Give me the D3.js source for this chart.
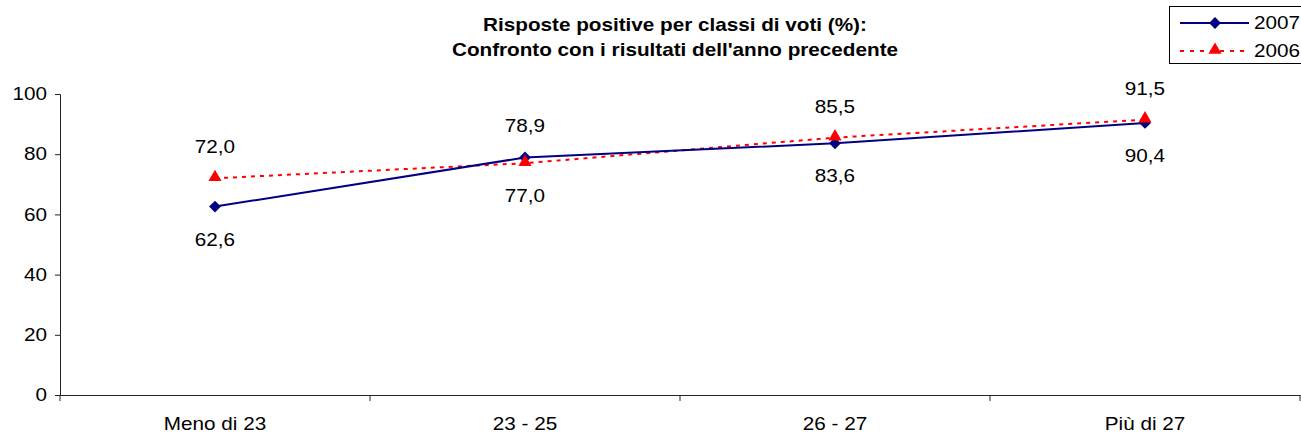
<!DOCTYPE html>
<html><head><meta charset="utf-8">
<script src="https://cdn.jsdelivr.net/npm/d3@7"></script>
<style>body{margin:0;background:#fff}svg{display:block;font-family:"Liberation Sans",Arial,sans-serif}</style>
</head><body><svg id="c" width="1301" height="434"></svg>
<script>
const categories = ["Meno di 23", "23 - 25", "26 - 27", "Più di 27"];
const values2007 = [62.6, 78.9, 83.6, 90.4];
const values2006 = [72.0, 77.0, 85.5, 91.5];
const labelPos2007 = ["below", "above", "below", "below"];
const labelPos2006 = ["above", "below", "above", "above"];
const yTicks = [0, 20, 40, 60, 80, 100];
const titleLines = ["Risposte positive per classi di voti (%):", "Confronto con i risultati dell'anno precedente"];
const seriesNames = ["2007", "2006"];

const SX = 1.15; // horizontal text stretch seen in the reference
function stretch(sel) {
  sel.attr("transform", function () {
    const x = +this.getAttribute("x") || 0;
    return `translate(${x},0) scale(${SX},1) translate(${-x},0)`;
  });
}

const svg = d3.select("#c");
const x = d3.scaleBand().domain(categories).range([60, 1300]);
const y = d3.scaleLinear().domain([0, 100]).range([395, 94]);
const fmt = v => d3.format(".1f")(v).replace(".", ",");

// title
svg.append("g").selectAll("text").data(titleLines).join("text")
  .attr("x", 675).attr("y", (d, i) => 31 + i * 25)
  .attr("text-anchor", "middle").attr("font-weight", "bold").attr("font-size", 18)
  .text(d => d).call(stretch);

// y axis
const ya = svg.append("g").attr("transform", "translate(60,0)")
  .call(d3.axisLeft(y).tickValues(yTicks).tickSize(5).tickPadding(8));
ya.select(".domain").attr("stroke", "#222");
ya.selectAll(".tick line").attr("stroke", "#222");
ya.selectAll("text").attr("font-size", 18).attr("font-family", "Liberation Sans, Arial").attr("fill", "#000").call(stretch);

// x axis
const xa = svg.append("g").attr("transform", "translate(0,395)")
  .call(d3.axisBottom(x).tickSize(0).tickPadding(22).tickSizeOuter(0));
xa.select(".domain").attr("stroke", "#222");
xa.selectAll("text").attr("font-size", 18).attr("font-family", "Liberation Sans, Arial").attr("fill", "#000").call(stretch);
const bounds = categories.map(c => x(c)).concat([x(categories[categories.length - 1]) + x.bandwidth()]);
svg.append("g").selectAll("line").data(bounds).join("line")
  .attr("x1", d => d).attr("x2", d => d).attr("y1", 395).attr("y2", 401).attr("stroke", "#222");

const cx = c => x(c) + x.bandwidth() / 2;
const line = d3.line().x((d, i) => cx(categories[i])).y(d => y(d));

svg.append("path").datum(values2006).attr("d", line).attr("fill", "none")
  .attr("stroke", "#ff0000").attr("stroke-width", 2).attr("stroke-dasharray", "4,5");
svg.append("path").datum(values2007).attr("d", line).attr("fill", "none")
  .attr("stroke", "#000080").attr("stroke-width", 2);

const diamond = d3.symbol().type(d3.symbolSquare).size(70);
const tri = d3.symbol().type(d3.symbolTriangle).size(75);

svg.append("g").selectAll("path").data(values2007).join("path")
  .attr("d", diamond)
  .attr("transform", (d, i) => `translate(${cx(categories[i])},${y(d)}) rotate(45)`)
  .attr("fill", "#000080");
svg.append("g").selectAll("path").data(values2006).join("path")
  .attr("d", tri)
  .attr("transform", (d, i) => `translate(${cx(categories[i])},${y(d) - 1})`)
  .attr("fill", "#ff0000");

function labels(vals, pos) {
  svg.append("g").selectAll("text").data(vals).join("text")
    .attr("x", (d, i) => cx(categories[i]))
    .attr("y", (d, i) => y(d) + (pos[i] === "above" ? -25 : 39))
    .attr("text-anchor", "middle").attr("font-size", 18)
    .text(d => fmt(d)).call(stretch);
}
labels(values2007, labelPos2007);
labels(values2006, labelPos2006);

// legend
const lg = svg.append("g");
lg.append("rect").attr("x", 1169.5).attr("y", 6.5).attr("width", 140).attr("height", 57)
  .attr("fill", "#fff").attr("stroke", "#000").attr("stroke-width", 1);
const legY = [23, 51];
lg.append("line").attr("x1", 1180).attr("x2", 1249).attr("y1", legY[0]).attr("y2", legY[0])
  .attr("stroke", "#000080").attr("stroke-width", 2);
lg.append("path").attr("d", diamond()).attr("transform", `translate(1215,${legY[0]}) rotate(45)`).attr("fill", "#000080");
lg.append("line").attr("x1", 1180).attr("x2", 1249).attr("y1", legY[1]).attr("y2", legY[1])
  .attr("stroke", "#ff0000").attr("stroke-width", 2).attr("stroke-dasharray", "4,6");
lg.append("path").attr("d", tri()).attr("transform", `translate(1215,${legY[1] - 1})`).attr("fill", "#ff0000");
lg.selectAll("text.l").data(seriesNames).join("text")
  .attr("x", 1254).attr("y", (d, i) => legY[i] + 6.5).attr("font-size", 18).text(d => d).call(stretch);
</script></body></html>
